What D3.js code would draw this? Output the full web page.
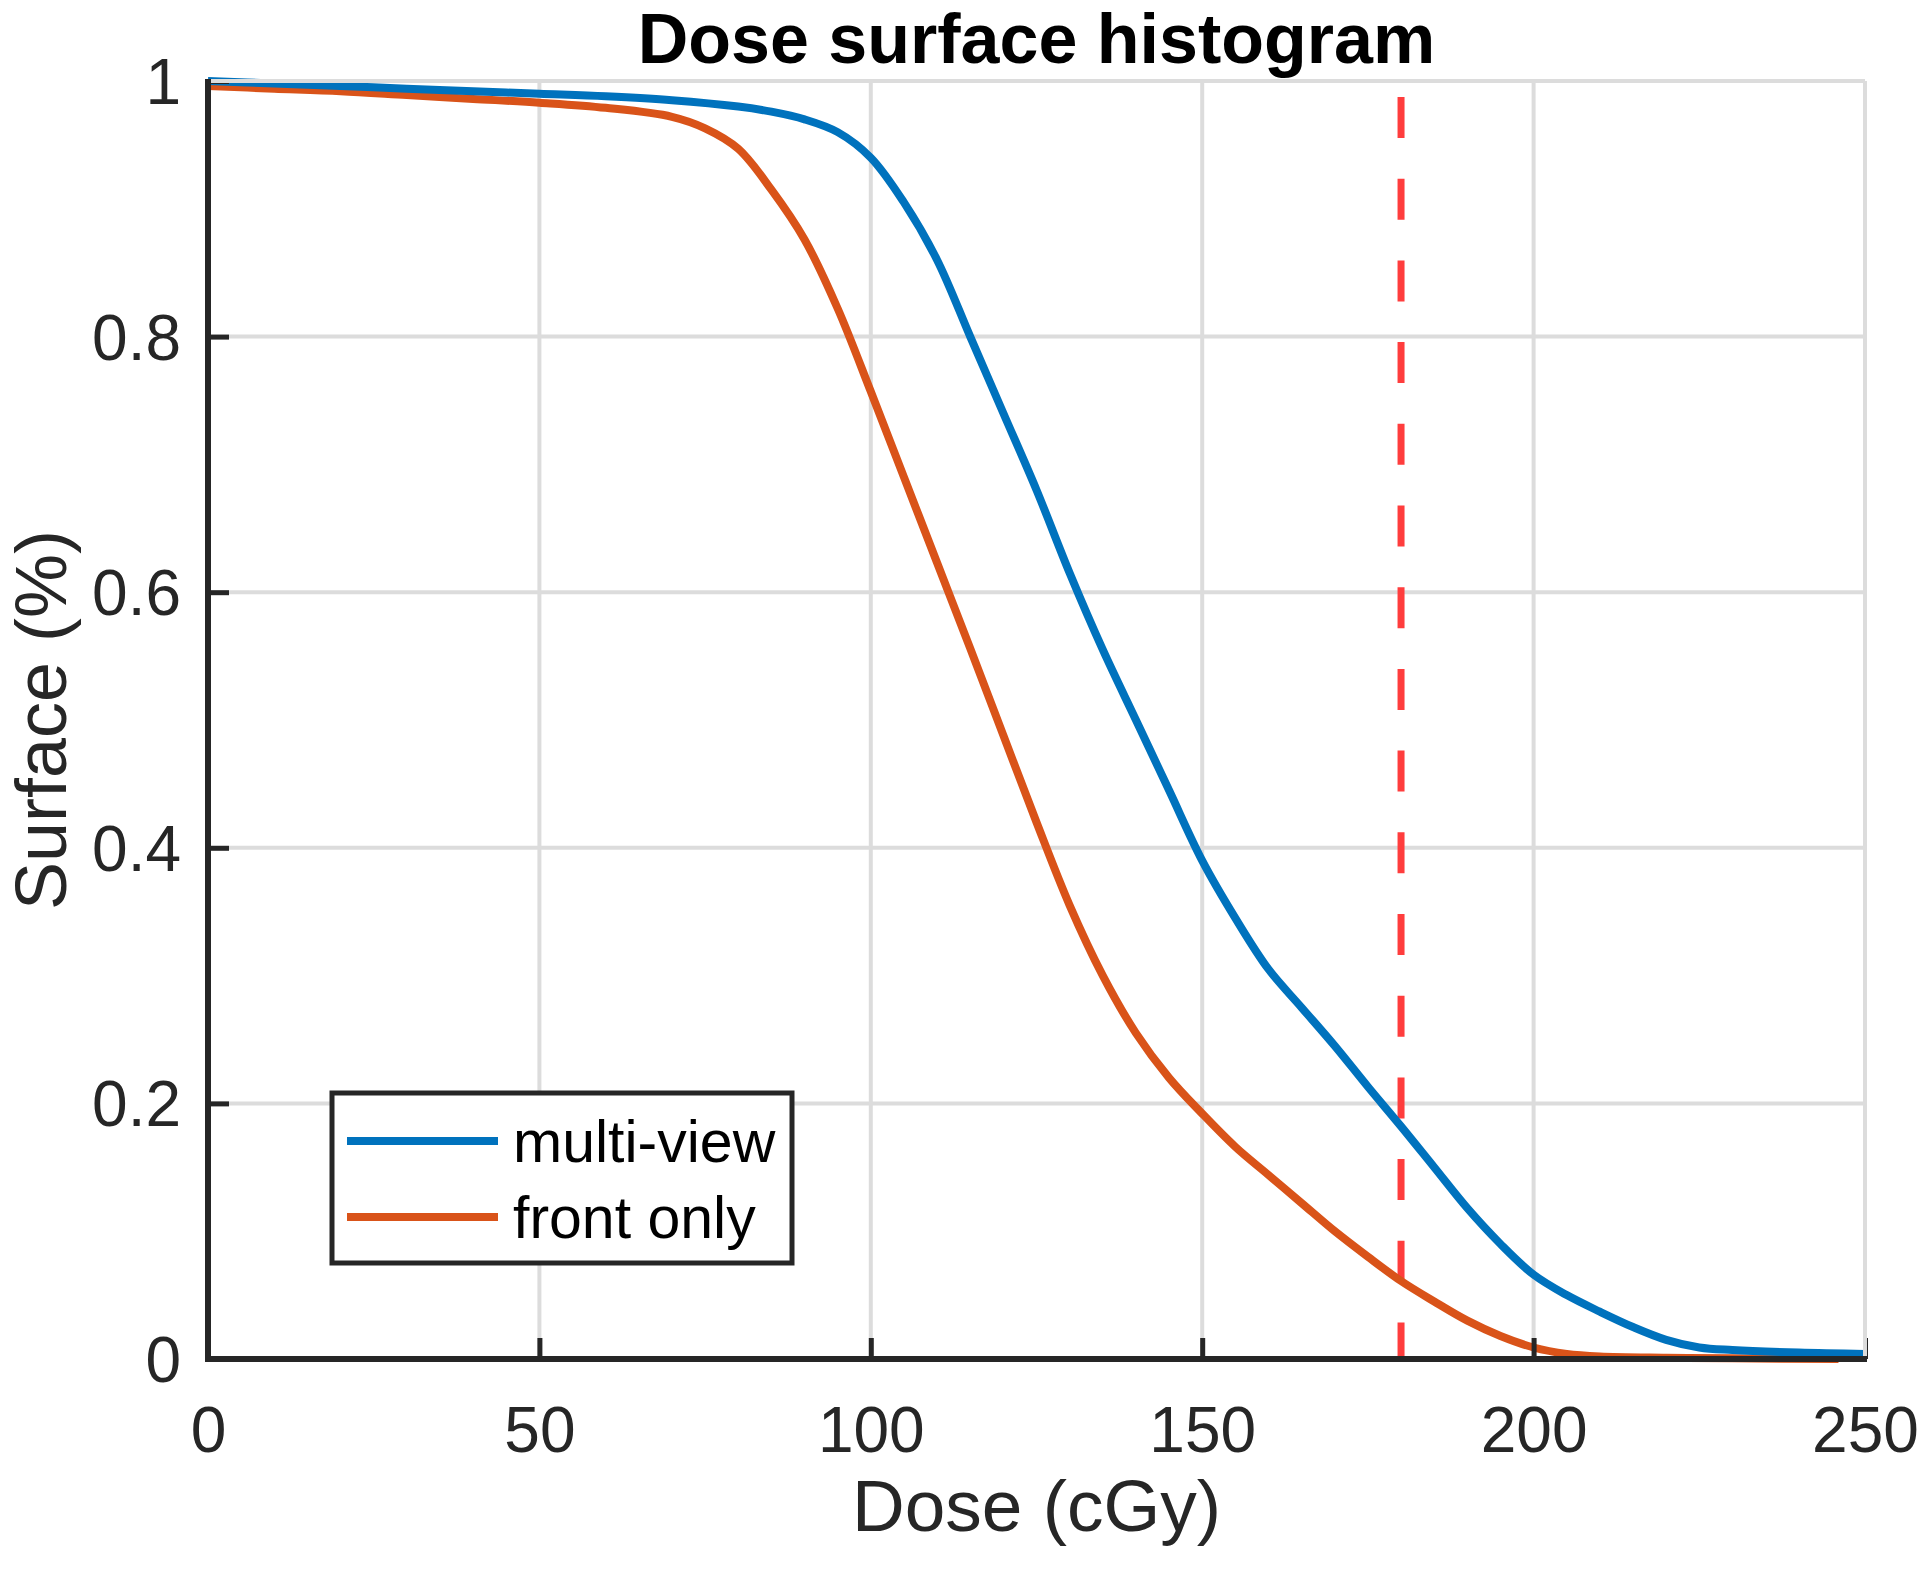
<!DOCTYPE html>
<html>
<head>
<meta charset="utf-8">
<script src="https://cdn.jsdelivr.net/npm/d3@7"></script>
<style>
  html, body { margin: 0; padding: 0; background: #fff; }
  svg { display: block; }
  text { font-family: "Liberation Sans", Arial, Helvetica, sans-serif; }
</style>
</head>
<body>
<svg id="chart" width="1920" height="1569"></svg>
<script>
// ---- data ----
const doseMulti = [0, 10, 20, 30, 40, 50, 60, 70, 80, 85, 90, 95, 100, 105, 110, 115, 120, 125, 130, 135, 140, 145, 150, 155, 160, 165, 170, 175, 180, 185, 190, 195, 200, 205, 210, 215, 220, 225, 230, 240, 250];
const surfMulti = [1.0, 0.998, 0.996, 0.994, 0.992, 0.990, 0.988, 0.985, 0.980, 0.976, 0.970, 0.960, 0.940, 0.905, 0.860, 0.800, 0.740, 0.680, 0.615, 0.555, 0.500, 0.445, 0.390, 0.345, 0.305, 0.275, 0.245, 0.213, 0.182, 0.150, 0.118, 0.090, 0.066, 0.050, 0.037, 0.025, 0.015, 0.009, 0.007, 0.005, 0.004];
const doseFront = [0, 10, 20, 30, 40, 50, 60, 70, 75, 80, 85, 90, 95, 100, 105, 110, 115, 120, 125, 130, 135, 140, 145, 150, 155, 160, 165, 170, 175, 180, 185, 190, 195, 200, 205, 210, 220, 230, 246];
const surfFront = [0.996, 0.994, 0.992, 0.989, 0.986, 0.983, 0.979, 0.972, 0.963, 0.947, 0.915, 0.876, 0.822, 0.757, 0.690, 0.623, 0.556, 0.488, 0.420, 0.355, 0.300, 0.255, 0.220, 0.192, 0.166, 0.144, 0.122, 0.100, 0.080, 0.061, 0.045, 0.030, 0.018, 0.009, 0.004, 0.002, 0.001, 0.0005, 0.0];
const seriesNames = ["multi-view", "front only"];
const refDose = 180;
const xTicks = [0, 50, 100, 150, 200, 250];
const yTicks = [0, 0.2, 0.4, 0.6, 0.8, 1];
const yTickLabels = ["0", "0.2", "0.4", "0.6", "0.8", "1"];
const titleText = "Dose surface histogram";
const xLabelText = "Dose (cGy)";
const yLabelText = "Surface (%)";

// ---- layout ----
const L = 208, R = 1865, T = 81, B = 1359;
const svg = d3.select("#chart");
const x = d3.scaleLinear().domain([0, 250]).range([L, R]);
const y = d3.scaleLinear().domain([0, 1]).range([B, T]);
const ink = "#262626";
const colors = ["#0072BD", "#D95319"];

// grid
const grid = svg.append("g");
grid.selectAll("line.gx").data(xTicks).join("line")
  .attr("x1", d => x(d)).attr("x2", d => x(d)).attr("y1", T).attr("y2", B)
  .attr("stroke", "#dcdcdc").attr("stroke-width", 4);
grid.selectAll("line.gy").data(yTicks).join("line")
  .attr("x1", L).attr("x2", R).attr("y1", d => y(d)).attr("y2", d => y(d))
  .attr("stroke", "#dcdcdc").attr("stroke-width", 4);

// data lines
const line = d3.line().x(d => x(d[0])).y(d => y(d[1])).curve(d3.curveCatmullRom.alpha(0.5));
const dataMulti = doseMulti.map((d, i) => [d, surfMulti[i]]);
const dataFront = doseFront.map((d, i) => [d, surfFront[i]]);

// red reference line
svg.append("line")
  .attr("x1", x(refDose)).attr("x2", x(refDose)).attr("y1", y(1)).attr("y2", y(0))
  .attr("stroke", "#ff3d3d").attr("stroke-width", 7)
  .attr("stroke-dasharray", "41,40.7").attr("stroke-dashoffset", 65.7);

svg.append("path").datum(dataFront).attr("d", line)
  .attr("fill", "none").attr("stroke", colors[1]).attr("stroke-width", 8)
  .attr("stroke-linejoin", "round");
svg.append("path").datum(dataMulti).attr("d", line)
  .attr("fill", "none").attr("stroke", colors[0]).attr("stroke-width", 8)
  .attr("stroke-linejoin", "round");

// axes
const xAxis = d3.axisBottom(x).tickValues(xTicks).tickSizeInner(-21).tickSizeOuter(0).tickPadding(0).tickFormat(d3.format("d"));
const gx = svg.append("g").attr("transform", `translate(0,${B})`).call(xAxis);
gx.select(".domain").remove();
gx.selectAll(".tick line").attr("stroke", ink).attr("stroke-width", 5);
gx.selectAll(".tick text").attr("fill", ink).attr("font-size", 64).attr("dy", null).attr("y", 93);

const yAxis = d3.axisLeft(y).tickValues(yTicks).tickSizeInner(-21).tickSizeOuter(0).tickPadding(0).tickFormat((d, i) => yTickLabels[i]);
const gy = svg.append("g").attr("transform", `translate(${L},0)`).call(yAxis);
gy.select(".domain").remove();
gy.selectAll(".tick line").attr("stroke", ink).attr("stroke-width", 5);
gy.selectAll(".tick text").attr("fill", ink).attr("font-size", 64).attr("x", -27).attr("dy", "0.35em");

// box: top/right gray, left/bottom dark
svg.append("line").attr("x1", L).attr("x2", R).attr("y1", T).attr("y2", T).attr("stroke", "#dcdcdc").attr("stroke-width", 4);
svg.append("line").attr("x1", R).attr("x2", R).attr("y1", T).attr("y2", B).attr("stroke", "#dcdcdc").attr("stroke-width", 4);
svg.append("line").attr("x1", L).attr("x2", L).attr("y1", T - 2).attr("y2", B + 3).attr("stroke", ink).attr("stroke-width", 6);
svg.append("line").attr("x1", L - 3).attr("x2", R + 2).attr("y1", B).attr("y2", B).attr("stroke", ink).attr("stroke-width", 6);

// title & labels
svg.append("text").attr("x", (L + R) / 2).attr("y", 63).attr("text-anchor", "middle")
  .attr("font-size", 70).attr("font-weight", "bold").attr("fill", "#000").text(titleText);
svg.append("text").attr("x", (L + R) / 2).attr("y", 1531).attr("text-anchor", "middle")
  .attr("font-size", 73).attr("fill", ink).text(xLabelText);
svg.append("text").attr("transform", `translate(66,${(T + B) / 2}) rotate(-90)`).attr("text-anchor", "middle")
  .attr("font-size", 72).attr("fill", ink).text(yLabelText);

// legend
const lg = svg.append("g");
lg.append("rect").attr("x", 332).attr("y", 1093).attr("width", 460).attr("height", 170)
  .attr("fill", "#fff").attr("stroke", ink).attr("stroke-width", 5);
seriesNames.forEach((name, i) => {
  const yy = 1141 + i * 76;
  lg.append("line").attr("x1", 347).attr("x2", 498).attr("y1", yy).attr("y2", yy)
    .attr("stroke", colors[i]).attr("stroke-width", 8);
  lg.append("text").attr("x", 513).attr("y", yy).attr("dy", "0.35em")
    .attr("font-size", 59).attr("fill", "#000").text(name);
});
</script>
</body>
</html>
